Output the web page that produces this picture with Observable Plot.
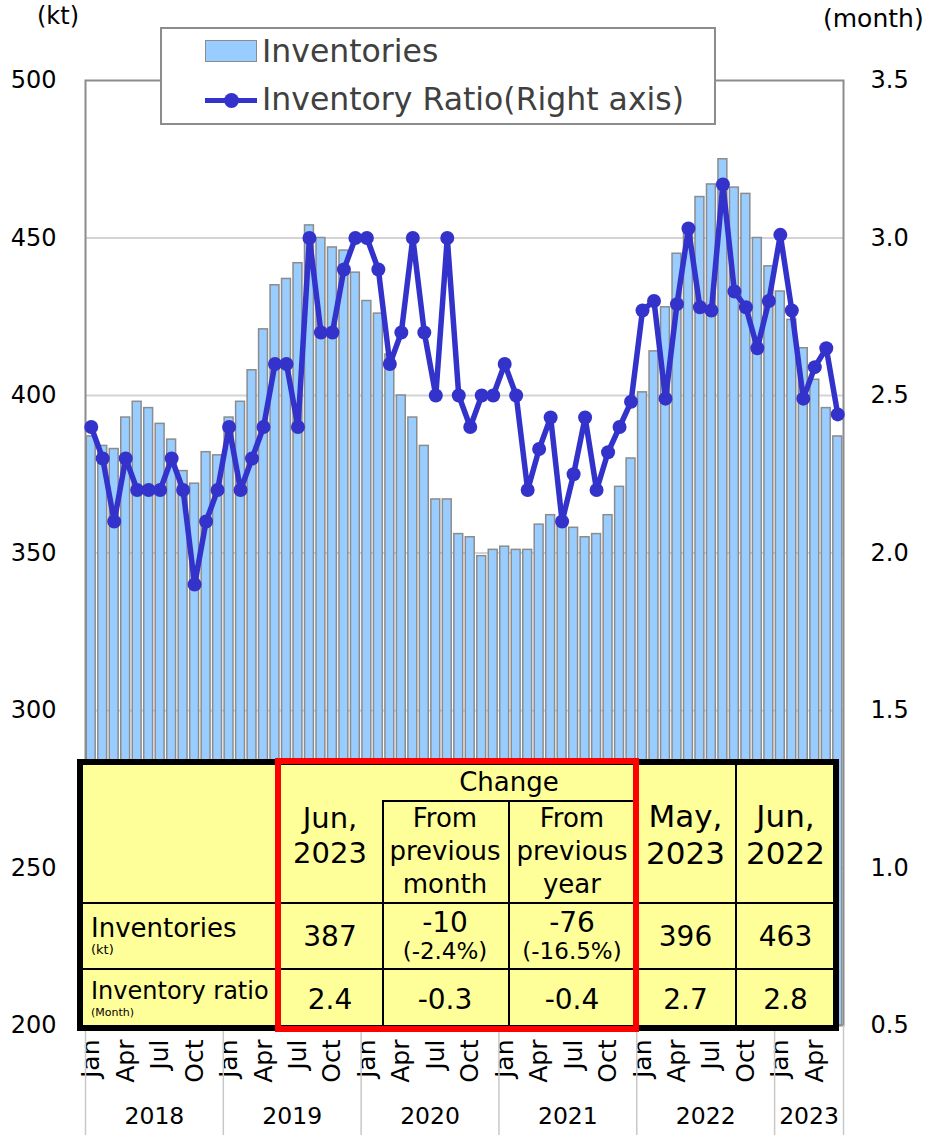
<!DOCTYPE html>
<html>
<head>
<meta charset="utf-8">
<script src="https://cdn.jsdelivr.net/npm/d3@7"></script>
<script src="https://cdn.jsdelivr.net/npm/@observablehq/plot@0.6"></script>
<style>
  html, body { margin: 0; padding: 0; background: #fff; }
  #wrap { position: relative; width: 933px; height: 1135px; overflow: hidden; font-family: "DejaVu Sans", Verdana, sans-serif; }
  #chart { position: absolute; left: 0; top: 0; }
  .abs { position: absolute; }
  .unit { font-size: 24px; color: #000; white-space: nowrap; }
  #legend { left: 160px; top: 27px; width: 556px; height: 98px; box-sizing: border-box; border: 2px solid #8c8c8c; background: #fff; }
  .legtext { font-size: 31.5px; color: #404040; white-space: nowrap; }
  #tbl { left: 80px; top: 762px; width: 756px; height: 266px; background: #ffff99; }
  .cell { position: absolute; display: flex; flex-direction: column; align-items: center; justify-content: center; text-align: center; color: #000; white-space: nowrap; }
  .hline { position: absolute; height: 1.5px; background: #000; }
  .vline { position: absolute; width: 1.5px; background: #000; }
</style>
</head>
<body>
<div id="wrap">
  <div id="chart"></div>
  <div class="abs unit" style="left:37px; top:2px;">(kt)</div>
  <div class="abs unit" style="left:823px; top:4px; font-size:25px;">(month)</div>
  <div id="legend" class="abs"></div>
  <div id="tbl" class="abs"></div>
</div>
<script>
// ---- Data ----
const months = ["Jan","Feb","Mar","Apr","May","Jun","Jul","Aug","Sep","Oct","Nov","Dec"];
const years = ["2018","2019","2020","2021","2022","2023"];
const inventories = [
  387,384,383,393,398,396,391,386,376,372,382,381,
  393,398,408,421,435,437,442,454,450,447,446,439,
  430,426,413,400,393,384,367,367,356,355,349,351,
  352,351,351,359,362,361,358,355,356,362,371,380,
  401,414,428,445,454,463,467,475,466,464,450,441,
  433,424,415,405,396,387
];
const inventoryRatio = [
  2.40,2.30,2.10,2.30,2.20,2.20,2.20,2.30,2.20,1.90,2.10,2.20,
  2.40,2.20,2.30,2.40,2.60,2.60,2.40,3.00,2.70,2.70,2.90,3.00,
  3.00,2.90,2.60,2.70,3.00,2.70,2.50,3.00,2.50,2.40,2.50,2.50,
  2.60,2.50,2.20,2.33,2.43,2.10,2.25,2.43,2.20,2.32,2.40,2.48,
  2.77,2.80,2.49,2.79,3.03,2.78,2.77,3.17,2.83,2.78,2.65,2.80,
  3.01,2.77,2.49,2.59,2.65,2.44
];
const leftTicks = [200,250,300,350,400,450,500];
const rightTicks = [0.5,1.0,1.5,2.0,2.5,3.0,3.5];
const monthTickLabels = ["Jan","Apr","Jul","Oct"];

const legendLabels = ["Inventories", "Inventory Ratio(Right axis)"];

const tableHeader = ["Jun,<br>2023", "Change", "From<br>previous<br>month", "From<br>previous<br>year", "May,<br>2023", "Jun,<br>2022"];
const rowLabels = [["Inventories", "(kt)"], ["Inventory ratio", "(Month)"]];
const inventoriesRow = [["387"], ["-10", "(-2.4%)"], ["-76", "(-16.5%)"], ["396"], ["463"]];
const ratioRow = [["2.4"], ["-0.3"], ["-0.4"], ["2.7"], ["2.8"]];

// ---- Build ----
const n = inventories.length;
const data = inventories.map((v, i) => ({ i, v, r: inventoryRatio[i], m: months[i % 12], y: years[Math.floor(i / 12)] }));
// right axis (ratio) mapped onto left scale: 0.5 -> 200, 3.5 -> 500
const r0 = rightTicks[0], r1 = rightTicks[rightTicks.length - 1];
const k0 = leftTicks[0], k1 = leftTicks[leftTicks.length - 1];
const toKt = r => k0 + (r - r0) * (k1 - k0) / (r1 - r0);
const toRatio = k => r0 + (k - k0) * (r1 - r0) / (k1 - k0);

const monthTicks = data.filter(d => monthTickLabels.includes(d.m)).map(d => d.i + 0.5);
const yearStarts = years.map((y, j) => j * 12).concat([n]);
const yearCenters = years.map((y, j) => (j * 12 + Math.min(n, j * 12 + 12)) / 2);

const plot = Plot.plot({
  width: 933,
  height: 1135,
  marginTop: 80,
  marginBottom: 110,
  marginLeft: 85,
  marginRight: 90,
  style: { fontFamily: "DejaVu Sans, Verdana, sans-serif", background: "transparent", color: "#000" },
  x: { domain: [0, n] },
  y: { domain: [k0, k1] },
  marks: [
    Plot.gridY(leftTicks.slice(1, -1), { stroke: "#d4d4d4", strokeOpacity: 1, strokeWidth: 2 }),
    Plot.rect(data, { x1: "i", x2: d => d.i + 1, y1: k0, y2: "v", fill: "#99ccff", stroke: "#8c8c8c", strokeWidth: 1.5, insetLeft: 1.3, insetRight: 1.3 }),
    Plot.frame({ stroke: "#8c8c8c", strokeWidth: 2 }),
    Plot.line(data, { x: d => d.i + 0.5, y: d => toKt(d.r), stroke: "#3333cc", strokeWidth: 5.5, strokeLinejoin: "round" }),
    Plot.dot(data, { x: d => d.i + 0.5, y: d => toKt(d.r), r: 7, fill: "#3333cc", stroke: "none" }),
    Plot.axisY({ anchor: "left", ticks: leftTicks, tickSize: 0, tickPadding: 29, fontSize: 24, label: null }),
    Plot.axisY({ anchor: "right", ticks: rightTicks.map(toKt), tickSize: 0, tickPadding: 27, fontSize: 24, label: null,
      tickFormat: d => toRatio(d).toFixed(1), textAnchor: "start" }),
    Plot.axisX({ ticks: monthTicks, tickSize: 0, tickPadding: 14, tickRotate: -90, fontSize: 25, label: null,
      tickFormat: x => months[Math.floor(x) % 12] }),
    Plot.axisX({ ticks: yearStarts, tickSize: 110, stroke: "#c8c8c8", strokeWidth: 1.5, tickFormat: () => "", label: null }),
    Plot.axisX({ ticks: yearCenters, tickSize: 0, tickPadding: 82, fontSize: 23.5, label: null,
      tickFormat: x => years[Math.floor(x / 12)] })
  ]
});
document.getElementById("chart").appendChild(plot);

// ---- Legend ----
const leg = document.getElementById("legend");
leg.innerHTML = `
  <div class="abs" style="left:43px; top:11px; width:52px; height:22px; box-sizing:border-box; background:#99ccff; border:1.5px solid #8c8c8c;"></div>
  <div class="abs legtext" style="left:100px; top:4px;">${legendLabels[0]}</div>
  <div class="abs" style="left:43px; top:69px; width:52px; height:5px; background:#3333cc;"></div>
  <div class="abs" style="left:62px; top:64px; width:15px; height:15px; border-radius:50%; background:#3333cc;"></div>
  <div class="abs legtext" style="left:100px; top:52px;">${legendLabels[1]}</div>
`;

// ---- Table ----
const tbl = document.getElementById("tbl");
const X = [0, 198, 302, 428, 556, 655, 756];
const Y = [0, 38, 140, 206, 266];
let html = "";
function cell(x0, x1, y0, y1, inner, extra) {
  html += `<div class="cell" style="left:${x0}px; width:${x1 - x0}px; top:${y0}px; height:${y1 - y0}px; ${extra || ""}">${inner}</div>`;
}
// header
cell(X[1], X[2], Y[0] + 8, Y[2], `<div style="font-size:29px; line-height:35px;">${tableHeader[0]}</div>`);
cell(X[2], X[4], Y[0] + 2, Y[1], `<div style="font-size:26px; line-height:30px;">${tableHeader[1]}</div>`);
cell(X[2], X[3], Y[1], Y[2], `<div style="font-size:26px; line-height:33px;">${tableHeader[2]}</div>`);
cell(X[3], X[4], Y[1], Y[2], `<div style="font-size:26px; line-height:33px;">${tableHeader[3]}</div>`);
cell(X[4], X[5], Y[0] + 6, Y[2], `<div style="font-size:31px; line-height:37px;">${tableHeader[4]}</div>`);
cell(X[5], X[6], Y[0] + 6, Y[2], `<div style="font-size:31px; line-height:37px;">${tableHeader[5]}</div>`);
// row labels
[[Y[2], Y[3]], [Y[3], Y[4]]].forEach(([y0, y1], k) => {
  cell(X[0], X[1], y0, y1, `<div style="font-size:${k === 0 ? 26 : 24}px; line-height:28px;">${rowLabels[k][0]}</div><div style="font-size:${k === 0 ? 13 : 11}px; line-height:15px;">${rowLabels[k][1]}</div>`,
    "align-items:flex-start; padding-left:11px; box-sizing:border-box;");
});
// values
[inventoriesRow, ratioRow].forEach((row, k) => {
  const y0 = Y[2 + k], y1 = Y[3 + k];
  row.forEach((vals, c) => {
    const main = `<div style="font-size:28px; line-height:31px;">${vals[0]}</div>`;
    const sub = vals[1] ? `<div style="font-size:23px; line-height:27px;">${vals[1]}</div>` : "";
    cell(X[1 + c], X[2 + c], y0 + 2, y1, main + sub);
  });
});
// thin lines
html += `<div class="hline" style="left:${X[2]}px; width:${X[4] - X[2]}px; top:${Y[1]}px;"></div>`;
html += `<div class="hline" style="left:0; width:756px; top:${Y[2]}px;"></div>`;
html += `<div class="hline" style="left:0; width:756px; top:${Y[3]}px;"></div>`;
html += `<div class="vline" style="left:${X[3]}px; top:${Y[1]}px; height:${Y[4] - Y[1]}px;"></div>`;
html += `<div class="vline" style="left:${X[2]}px; top:${Y[1]}px; height:${Y[4] - Y[1]}px;"></div>`;
html += `<div class="vline" style="left:${X[5]}px; top:0; height:266px;"></div>`;
// outer border and red highlight
html += `<div class="abs" style="left:-3px; top:-3px; width:762px; height:272px; box-sizing:border-box; border:6px solid #000;"></div>`;
html += `<div class="abs" style="left:${X[1] - 3}px; top:-4px; width:${X[4] - X[1] + 6}px; height:274px; box-sizing:border-box; border:6px solid #ff0000;"></div>`;
tbl.innerHTML = html;
</script>
</body>
</html>
